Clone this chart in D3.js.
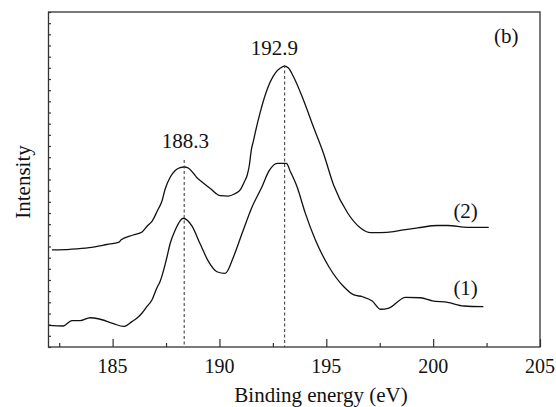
<!DOCTYPE html>
<html>
<head>
<meta charset="utf-8">
<script src="https://cdn.jsdelivr.net/npm/d3@7"></script>
</head>
<body style="margin:0; font-family: 'Liberation Serif', serif;">
<svg id="chart" style="font-family: 'Liberation Serif', serif;"></svg>
<script>
var width = 556;
var height = 407;
var left = 48.5, top_ = 12, right = 540, bottom = 347;

// curve (1)
var energy1 = [182.0, 182.69, 183.09, 183.48, 183.95, 184.33, 185.04, 185.51, 185.90, 186.13,
	186.37, 186.60, 186.84, 187.07, 187.23, 187.51, 187.70, 187.93, 188.30, 188.71,
	189.10, 189.49, 189.88, 190.27, 190.66, 191.06, 191.53, 191.99, 192.30, 192.70,
	193.13, 193.32, 193.63, 194.02, 194.49, 195.12, 195.82, 196.29, 196.70, 197.15,
	197.54, 197.93, 198.71, 199.41, 199.96, 200.67, 201.44, 202.35];
var counts1 = [1.93, 1.88, 2.36, 2.36, 2.62, 2.53, 2.09, 1.84, 2.27, 2.57,
	3.02, 3.61, 4.21, 5.28, 5.91, 7.79, 9.31, 10.48, 11.53, 10.84,
	9.22, 7.64, 6.74, 6.60, 8.09, 10.18, 12.56, 14.35, 15.70, 16.45,
	16.45, 15.70, 14.35, 11.97, 9.58, 7.19, 5.40, 4.66, 4.50, 4.12,
	3.38, 3.49, 4.45, 4.41, 4.14, 4.00, 3.67, 3.61];

// curve (2)
var energy2 = [182.16, 183.01, 183.90, 184.73, 185.30, 185.40, 185.96, 186.38, 186.62, 186.85,
	187.09, 187.31, 187.46, 187.70, 187.93, 188.16, 188.35, 188.54, 188.77, 188.96,
	189.10, 189.57, 190.04, 190.41, 190.70, 190.98, 191.16, 191.30, 191.40, 191.49,
	191.59, 191.68, 191.91, 192.24, 192.62, 192.85, 193.04, 193.23, 193.46, 193.93,
	194.40, 194.87, 195.34, 196.00, 196.60, 197.07, 197.54, 198.15, 198.71, 199.27,
	200.21, 200.68, 201.62, 202.60];
var counts2 = [8.69, 8.75, 8.89, 9.18, 9.40, 9.60, 10.03, 10.30, 10.84, 11.28,
	12.18, 13.07, 14.15, 15.22, 15.81, 16.07, 16.12, 16.03, 15.58, 15.13,
	14.91, 14.19, 13.55, 13.52, 13.70, 14.10, 14.78, 15.40, 16.30, 17.64,
	18.45, 19.25, 21.04, 23.10, 24.54, 24.98, 25.16, 24.98, 24.22, 22.12,
	19.70, 17.33, 14.51, 12.00, 10.66, 10.24, 10.25, 10.34, 10.52, 10.66,
	10.88, 10.88, 10.72, 10.72];

var xTicks = [185, 190, 195, 200, 205];
var xMinorTicks = [182.5, 187.5, 192.5, 197.5, 202.5];

// peak markers: position, top of the dashed line, label, label anchor
var peakEnergy = [188.35, 193.05];
var peakTop = [16.75, 25.25];
var peakLabel = ["188.3", "192.9"];
var peakLabelPos = [[188.40, 17.82], [192.57, 26.15]];

var curveLabel = ["(1)", "(2)"];
var curveLabelPos = [[201.52, 4.66], [201.52, 11.55]];

var svg = d3.select("#chart")
.attr("width", width)
.attr("height", height);

var x = d3.scaleLinear()
.domain([182, 205])
.range([left, right]);

var y = d3.scaleLinear()
.domain([0, 30])
.range([bottom, top_]);

function label(t, px, py, size) {
	return svg.append("text")
	.attr("x", px)
	.attr("y", py)
	.attr("text-anchor", "middle")
	.attr("font-size", size)
	.attr("fill", "#111")
	.text(t);
}

function styleAxis(g) {
	g.attr("font-family", null).attr("font-size", null);
	g.select(".domain").remove();
	g.selectAll("line")
	.attr("stroke", "#333")
	.attr("stroke-width", 1.2);
	g.selectAll("text").remove();
}

// ticks point inward
svg.append("g")
.attr("transform", "translate(0," + bottom + ")")
.call(d3.axisBottom(x).tickValues(xMinorTicks).tickFormat("").tickSizeInner(-4).tickSizeOuter(0))
.call(styleAxis);

svg.append("g")
.attr("transform", "translate(0," + bottom + ")")
.call(d3.axisBottom(x).tickValues(xTicks).tickSizeInner(-8).tickSizeOuter(0))
.call(styleAxis);

xTicks.forEach(function(t) {
	label(d3.format("d")(t), x(t), bottom + 26, 20);
});

svg.append("g")
.attr("transform", "translate(" + left + ",0)")
.call(d3.axisLeft(y).tickValues(d3.range(0, 31)).tickFormat("").tickSizeInner(-2.5).tickSizeOuter(0))
.call(styleAxis);

var line = d3.line()
.curve(d3.curveMonotoneX)
.x(function(d) { return x(d[0]); })
.y(function(d) { return y(d[1]); });

[d3.zip(energy1, counts1), d3.zip(energy2, counts2)].forEach(function(pts) {
	svg.append("path")
	.attr("fill", "none")
	.attr("stroke", "#111")
	.attr("stroke-width", 1.3)
	.attr("stroke-linejoin", "round")
	.attr("d", line(pts));
});

peakEnergy.forEach(function(e, i) {
	svg.append("line")
	.attr("stroke", "#444")
	.attr("stroke-width", 1.1)
	.attr("stroke-dasharray", "3,2.5")
	.attr("x1", x(e))
	.attr("x2", x(e))
	.attr("y1", y(peakTop[i]))
	.attr("y2", y(0));
	label(peakLabel[i], x(peakLabelPos[i][0]), y(peakLabelPos[i][1]), 21);
});

curveLabel.forEach(function(t, i) {
	label(t, x(curveLabelPos[i][0]), y(curveLabelPos[i][1]), 21);
});

label("(b)", x(203.42), y(27.22), 21);

svg.append("rect")
.attr("fill", "none")
.attr("stroke", "#333")
.attr("stroke-width", 1.3)
.attr("x", left)
.attr("y", top_)
.attr("width", right - left)
.attr("height", bottom - top_);

label("Binding energy (eV)", 321, 402, 21);

label("Intensity", 0, 0, 21)
.attr("transform", "translate(30,182) rotate(-90)");
</script>
</body>
</html>
